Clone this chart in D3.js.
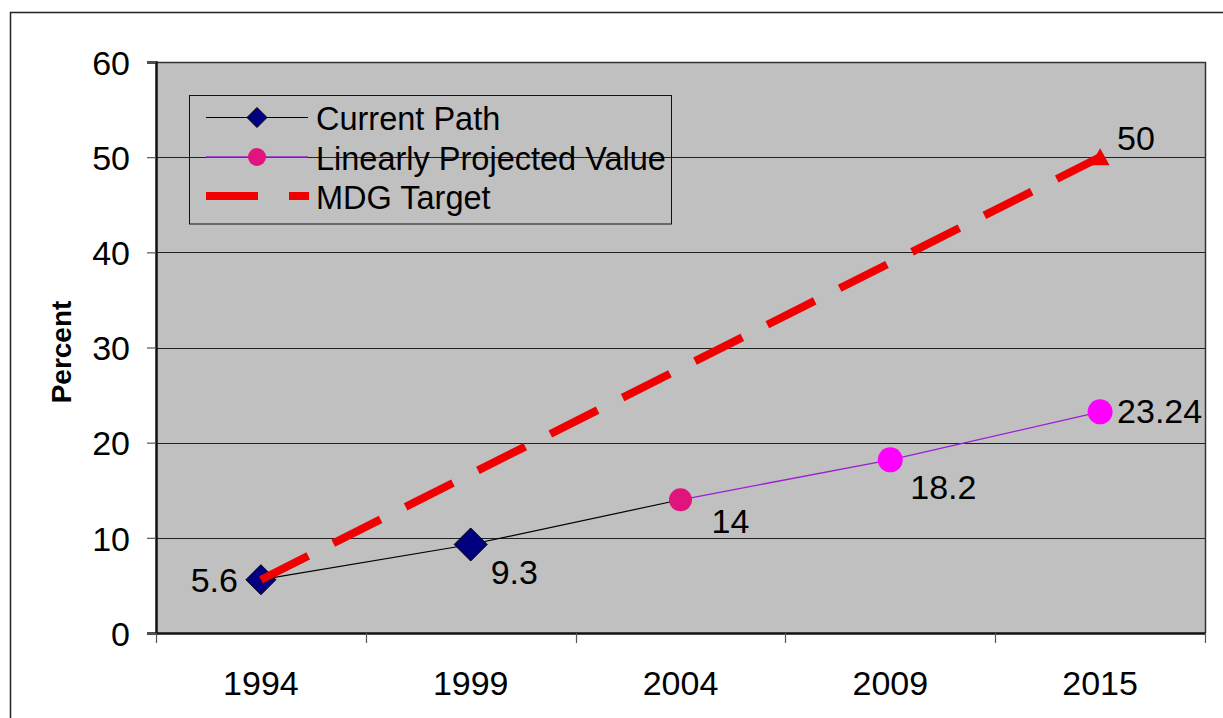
<!DOCTYPE html>
<html>
<head>
<meta charset="utf-8">
<script src="https://cdn.jsdelivr.net/npm/d3@7"></script>
<style>
  html, body { margin: 0; padding: 0; background: #fff; }
  svg { display: block; font-family: "Liberation Sans", Arial, sans-serif; }
</style>
</head>
<body>
<svg id="chart" width="1223" height="718"></svg>
<script>
// Years on the category axis
const years = ["1994", "1999", "2004", "2009", "2015"];
// Observed trend
const currentPath = [5.6, 9.3, 14, null, null];
// Linear extrapolation from the latest observation
const projected = [null, null, 14, 18.2, 23.24];
// Target path to 2015
const mdgTarget = [5.6, null, null, null, 50];
// Value axis ticks
const yTicks = [0, 10, 20, 30, 40, 50, 60];

const svg = d3.select("#chart");
const plot = { left: 156, top: 62, right: 1205, bottom: 633 };

const x = d3.scaleBand().domain(years).range([plot.left, plot.right]).padding(0);
const y = d3.scaleLinear().domain([0, 60]).range([plot.bottom, plot.top]);
const cx = yr => x(yr) + x.bandwidth() / 2;

const pts = arr => years.map((yr, i) => ({ yr, v: arr[i] })).filter(d => d.v != null);

// outer frame
svg.append("rect")
  .attr("x", 10.5).attr("y", 12.5).attr("width", 1240).attr("height", 740)
  .attr("fill", "none").attr("stroke", "#222").attr("stroke-width", 1.5);

// plot background
svg.append("rect")
  .attr("x", plot.left).attr("y", plot.top)
  .attr("width", plot.right - plot.left).attr("height", plot.bottom - plot.top)
  .attr("fill", "#c0c0c0");

// horizontal gridlines
svg.append("g").selectAll("line")
  .data(yTicks.filter(t => t > 0 && t < 60))
  .join("line")
  .attr("x1", plot.left).attr("x2", plot.right)
  .attr("y1", d => Math.round(y(d)) + 0.5).attr("y2", d => Math.round(y(d)) + 0.5)
  .attr("stroke", "#222").attr("stroke-width", 1);

// plot border (top/right)
svg.append("path")
  .attr("d", `M${plot.left},${plot.top + 0.5}H${plot.right + 0.5}V${plot.bottom}`)
  .attr("fill", "none").attr("stroke", "#333").attr("stroke-width", 1.5);

// y axis
const yAxis = d3.axisLeft(y).tickValues(yTicks).tickSize(9).tickPadding(17).tickFormat(d3.format("d"));
const gy = svg.append("g").attr("transform", `translate(${plot.left},0)`).call(yAxis);
gy.select(".domain").attr("stroke", "#111").attr("stroke-width", 2.5);
gy.selectAll(".tick line").attr("stroke", "#555").attr("stroke-width", 1.2);
gy.selectAll(".tick text")
  .attr("font-size", 34).attr("fill", "#000").attr("font-family", "Liberation Sans, Arial, sans-serif")
  .attr("dy", "0.36em");

// x axis: labels at band centres, ticks at band edges
const xAxis = d3.axisBottom(x).tickSize(0).tickPadding(50);
const gx = svg.append("g").attr("transform", `translate(0,${plot.bottom})`).call(xAxis);
gx.select(".domain").attr("stroke", "#111").attr("stroke-width", 2.5);
gx.selectAll(".tick text")
  .attr("font-size", 34).attr("fill", "#000").attr("font-family", "Liberation Sans, Arial, sans-serif")
  .attr("dy", "0.35em");
const edges = years.map(yr => x(yr)).concat([x(years[years.length - 1]) + x.bandwidth()]);
gx.selectAll(".edge").data(edges).join("line")
  .attr("class", "edge")
  .attr("x1", d => Math.round(d) + 0.5).attr("x2", d => Math.round(d) + 0.5)
  .attr("y1", 0).attr("y2", 10)
  .attr("stroke", "#555").attr("stroke-width", 1.2);

// y axis title
svg.append("text")
  .attr("transform", "translate(71,352) rotate(-90)")
  .attr("text-anchor", "middle")
  .attr("font-size", 28).attr("font-weight", "bold")
  .text("Percent");

const line = d3.line().x(d => cx(d.yr)).y(d => y(d.v));

// Current Path
const cp = pts(currentPath);
svg.append("path").attr("d", line(cp))
  .attr("fill", "none").attr("stroke", "#000").attr("stroke-width", 1.2);

// Linearly projected value
const pj = pts(projected);
svg.append("path").attr("d", line(pj))
  .attr("fill", "none").attr("stroke", "#9a1ed8").attr("stroke-width", 1.3);

const diamond = (s) => `M0,${-s}L${s},0L0,${s}L${-s},0Z`;
svg.append("g").selectAll("path")
  .data(cp.filter(d => d.yr !== "2004"))
  .join("path")
  .attr("transform", d => `translate(${cx(d.yr)},${y(d.v)})`)
  .attr("d", (d, i) => diamond(i === 0 ? 15 : 16.5))
  .attr("fill", "#000080").attr("stroke", "#000").attr("stroke-width", 1);

svg.append("g").selectAll("circle")
  .data(pj)
  .join("circle")
  .attr("cx", d => cx(d.yr)).attr("cy", d => y(d.v))
  .attr("r", (d, i) => i === 0 ? 11.5 : 12.5)
  .attr("fill", (d, i) => i === 0 ? "#e0147c" : "#ff00ff");

// MDG target
const mt = pts(mdgTarget);
svg.append("path").attr("d", line(mt))
  .attr("fill", "none").attr("stroke", "#f00000").attr("stroke-width", 8)
  .attr("stroke-dasharray", "53,28");
const last = mt[mt.length - 1];
svg.append("path")
  .attr("transform", `translate(${cx(last.yr)},${y(last.v)})`)
  .attr("d", "M0,-9L9.5,8L-9.5,8Z")
  .attr("fill", "#f00000");

// data labels
const labelStyle = sel => sel.attr("font-size", 34).attr("fill", "#000");
const labels = [
  { yr: "1994", v: currentPath[0], dx: -23, dy: 12, anchor: "end" },
  { yr: "1999", v: currentPath[1], dx: 20, dy: 40, anchor: "start" },
  { yr: "2004", v: projected[2], dx: 31, dy: 33, anchor: "start" },
  { yr: "2009", v: projected[3], dx: 20, dy: 39, anchor: "start" },
  { yr: "2015", v: projected[4], dx: 17, dy: 11, anchor: "start" },
  { yr: "2015", v: mdgTarget[4], dx: 17, dy: -7, anchor: "start" }
];
svg.append("g").selectAll("text")
  .data(labels)
  .join("text")
  .attr("x", d => cx(d.yr) + d.dx)
  .attr("y", d => y(d.v) + d.dy)
  .attr("text-anchor", d => d.anchor)
  .call(labelStyle)
  .text(d => String(d.v));

// legend
const lg = svg.append("g");
lg.append("rect")
  .attr("x", 189.5).attr("y", 95.5).attr("width", 482).attr("height", 128.5)
  .attr("fill", "none").attr("stroke", "#111").attr("stroke-width", 1);
const rows = [
  { name: "Current Path", cy: 117.5 },
  { name: "Linearly Projected Value", cy: 157 },
  { name: "MDG Target", cy: 196 }
];
// sample lines
lg.append("line").attr("x1", 206).attr("x2", 308).attr("y1", rows[0].cy).attr("y2", rows[0].cy)
  .attr("stroke", "#000").attr("stroke-width", 1);
lg.append("path").attr("transform", `translate(257,${rows[0].cy})`).attr("d", diamond(10))
  .attr("fill", "#000080").attr("stroke", "#000").attr("stroke-width", 1);
lg.append("line").attr("x1", 206).attr("x2", 308).attr("y1", rows[1].cy).attr("y2", rows[1].cy)
  .attr("stroke", "#9a1ed8").attr("stroke-width", 1.3);
lg.append("circle").attr("cx", 257).attr("cy", rows[1].cy).attr("r", 9).attr("fill", "#e0147c");
lg.append("line").attr("x1", 206).attr("x2", 309).attr("y1", rows[2].cy).attr("y2", rows[2].cy)
  .attr("stroke", "#f00000").attr("stroke-width", 8).attr("stroke-dasharray", "52,31");
lg.selectAll("text.lbl").data(rows).join("text")
  .attr("class", "lbl")
  .attr("x", 316).attr("y", d => d.cy + 12.5)
  .attr("font-size", 32.5).attr("fill", "#000")
  .text(d => d.name);
</script>
</body>
</html>
